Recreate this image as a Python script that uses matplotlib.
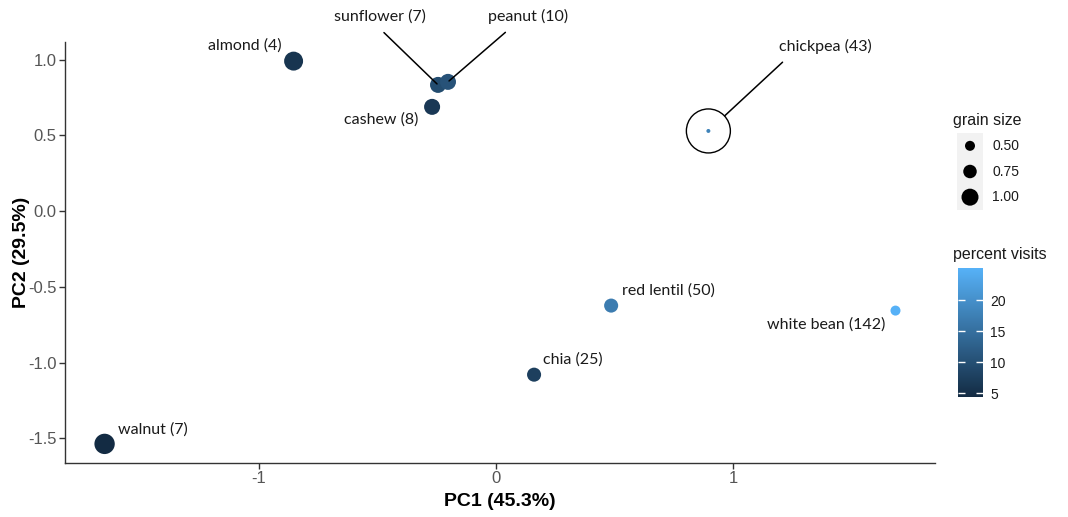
import numpy as np
import matplotlib
matplotlib.use("Agg")
import matplotlib.pyplot as plt
from matplotlib.colors import LinearSegmentedColormap, Normalize

plt.rcParams['font.family'] = ['Liberation Sans', 'DejaVu Sans']
plt.rcParams['axes.unicode_minus'] = False

# data
foods = ['almond', 'sunflower', 'peanut', 'cashew', 'chickpea',
         'red lentil', 'white bean', 'chia', 'walnut']
counts = [4, 7, 10, 8, 43, 50, 142, 25, 7]
pc1 = [-0.854, -0.245, -0.203, -0.270, 0.895, 0.485, 1.684, 0.160, -1.651]
pc2 = [0.991, 0.834, 0.854, 0.689, 0.530, -0.623, -0.656, -1.079, -1.536]
grain_size = [1.14, 0.93, 0.93, 0.93, 0.07, 0.79, 0.50, 0.79, 1.24]
percent_visits = [6.0, 9.5, 10.5, 6.5, 18.0, 17.0, 25.2, 7.5, 4.4]

size_breaks = [0.50, 0.75, 1.00]
visit_breaks = [5, 10, 15, 20]

# label offsets (points) from each point, and whether a leader line is drawn
label_off = {
    'almond': (-35, 11), 'sunflower': (-42, 49), 'peanut': (58, 47),
    'cashew': (-37, -9), 'chickpea': (84, 61), 'red lentil': (41, 11),
    'white bean': (-50, -10), 'chia': (28, 11), 'walnut': (35, 10),
}
leader = {'sunflower': 0.45, 'peanut': 0.33, 'chickpea': 0.14}


def marker_area(g):
    # diameter in px -> area in pt^2 (100 dpi)
    d = (3 + 14 * np.asarray(g)) * 0.72
    return d ** 2


cmap = LinearSegmentedColormap.from_list('gg', ['#132B43', '#56B1F7'])
norm = Normalize(vmin=min(percent_visits), vmax=max(percent_visits))

fig = plt.figure(figsize=(10.68, 5.17), dpi=100)
ax = fig.add_axes([0.0609, 0.1044, 0.8146, 0.8144])

ax.scatter(pc1, pc2, s=marker_area(grain_size), c=percent_visits,
           cmap=cmap, norm=norm, linewidths=0, zorder=3)

# highlight ring around chickpea
ci = foods.index('chickpea')
ax.scatter([pc1[ci]], [pc2[ci]], s=(44 * 0.72) ** 2, facecolors='none',
           edgecolors='black', linewidths=1.0, zorder=4)

for i, name in enumerate(foods):
    label = f"{name} ({counts[i]})"
    dx, dy = label_off[name]
    ax.annotate(label, (pc1[i], pc2[i]), xytext=(dx, dy),
                textcoords='offset points', ha='center', va='center',
                fontsize=11.5, family=['Lato', 'DejaVu Sans'], color='#1a1a1a',
                zorder=5)
    if name in leader:
        shrink_b = 16 if name == 'chickpea' else 1
        ax.annotate(label, (pc1[i], pc2[i]), xytext=(dx, dy),
                    textcoords='offset points', ha='center', va='center',
                    fontsize=11.5, family=['Lato', 'DejaVu Sans'], alpha=0,
                    arrowprops=dict(arrowstyle='-', color='black', lw=1.1,
                                    relpos=(leader[name], 0), shrinkA=6,
                                    shrinkB=shrink_b))

x0, x1 = min(pc1), max(pc1)
y0, y1 = min(pc2), max(pc2)
ax.set_xlim(x0 - 0.05 * (x1 - x0), x1 + 0.05 * (x1 - x0))
ax.set_ylim(y0 - 0.05 * (y1 - y0), y1 + 0.05 * (y1 - y0))
ax.set_xticks([-1, 0, 1])
ax.set_xticklabels(['-1', '0', '1'])
ax.set_yticks(np.arange(-1.5, 1.01, 0.5))
ax.set_yticklabels([f"{v:.1f}" for v in np.arange(-1.5, 1.01, 0.5)])
ax.tick_params(length=4, width=1, color='#333333', labelsize=12,
               labelcolor='#555555', pad=2)
for s in ['top', 'right']:
    ax.spines[s].set_visible(False)
for s in ['left', 'bottom']:
    ax.spines[s].set_color('#333333')
    ax.spines[s].set_linewidth(1)

ax.set_xlabel('PC1 (45.3%)', fontsize=14, fontweight='bold', labelpad=5)
ax.set_ylabel('PC2 (29.5%)', fontsize=14, fontweight='bold', labelpad=-1)

# size legend
W, H = 1068, 517
fig.text(953 / W, 1 - 120 / H, 'grain size', fontsize=11.5, va='center',
         ha='left', color='#1a1a1a')
lax = fig.add_axes([957 / W, 1 - 210 / H, 26 / W, 77 / H])
lax.set_facecolor('#F2F2F2')
lax.scatter([0] * 3, [2, 1, 0], s=marker_area(size_breaks), c='black',
            linewidths=0)
lax.set_xlim(-0.5, 0.5)
lax.set_ylim(-0.5, 2.5)
lax.set_xticks([])
lax.set_yticks([])
for s in lax.spines.values():
    s.set_visible(False)
for j, b in enumerate(size_breaks):
    lax.text(0.85, 2 - j, f"{b:.2f}", transform=lax.transData, fontsize=10,
             va='center', ha='left', color='#1a1a1a', clip_on=False)

# colour bar
fig.text(953 / W, 1 - 254 / H, 'percent visits', fontsize=11.5, va='center',
         ha='left', color='#1a1a1a')
cax = fig.add_axes([958 / W, 1 - 397 / H, 25 / W, 129 / H])
sm = plt.cm.ScalarMappable(norm=norm, cmap=cmap)
cb = fig.colorbar(sm, cax=cax, ticks=visit_breaks)
cb.outline.set_visible(False)
cax.tick_params(direction='in', color='white', length=5, width=1,
                left=True, right=True, labelsize=10, labelcolor='#1a1a1a', pad=5)

fig.savefig('out.png', dpi=100)
